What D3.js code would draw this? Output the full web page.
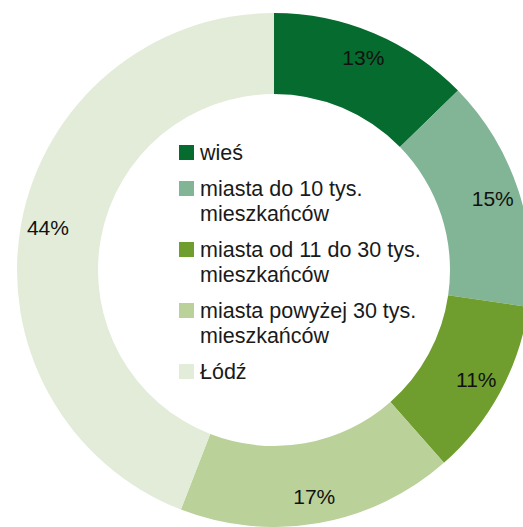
<!DOCTYPE html>
<html><head><meta charset="utf-8">
<script src="https://cdn.jsdelivr.net/npm/d3@7"></script>
<style>body{margin:0;background:#fff}svg{display:block}</style>
</head><body>
<svg id="c" width="523" height="527"></svg>
<script>
const categories = ["wieś", "miasta do 10 tys. mieszkańców", "miasta od 11 do 30 tys. mieszkańców", "miasta powyżej 30 tys. mieszkańców", "Łódź"];
const legendLines = [["wieś"], ["miasta do 10 tys.", "mieszkańców"], ["miasta od 11 do 30 tys.", "mieszkańców"], ["miasta powyżej 30 tys.", "mieszkańców"], ["Łódź"]];
const values = [12.7, 14.6, 11.2, 17.4, 44.1];
const valueLabels = ["13%", "15%", "11%", "17%", "44%"];
const colors = ["#056b2e", "#82b496", "#6f9e2e", "#bad19a", "#e2ecd8"];

const svg = d3.select("#c");
const cx = 274, cy = 270, R = 257, r = 176;
const g = svg.append("g").attr("transform", `translate(${cx},${cy})`);
const pie = d3.pie().sort(null).value(d => d)(values);
const arc = d3.arc().innerRadius(r).outerRadius(R);
const labelArc = d3.arc().innerRadius(230).outerRadius(230);
g.selectAll("path").data(pie).join("path").attr("d", arc).attr("fill", (d, i) => colors[i]);
g.selectAll("text.v").data(pie).join("text").attr("class", "v")
  .attr("transform", d => `translate(${labelArc.centroid(d)})`)
  .attr("text-anchor", "middle").attr("dy", "0.35em")
  .attr("font-family", "Liberation Sans, Arial, sans-serif").attr("font-size", 21)
  .attr("fill", "#111").text((d, i) => valueLabels[i]);

const lg = svg.append("g").attr("transform", "translate(179,0)");
const baselines = [];
let y = 160;
legendLines.forEach((lines, i) => { baselines.push(y); y += 25 * (lines.length - 1) + 36; });
legendLines.forEach((lines, i) => {
  const item = lg.append("g");
  item.append("rect").attr("x", 0).attr("y", baselines[i] - 15).attr("width", 15).attr("height", 15).attr("fill", colors[i]);
  const t = item.append("text").attr("x", 21).attr("y", baselines[i])
    .attr("font-family", "Liberation Sans, Arial, sans-serif").attr("font-size", 21.5).attr("fill", "#1a1a1a");
  lines.forEach((ln, j) => t.append("tspan").attr("x", 21).attr("dy", j ? 25 : 0).text(ln));
});
</script>
</body></html>
